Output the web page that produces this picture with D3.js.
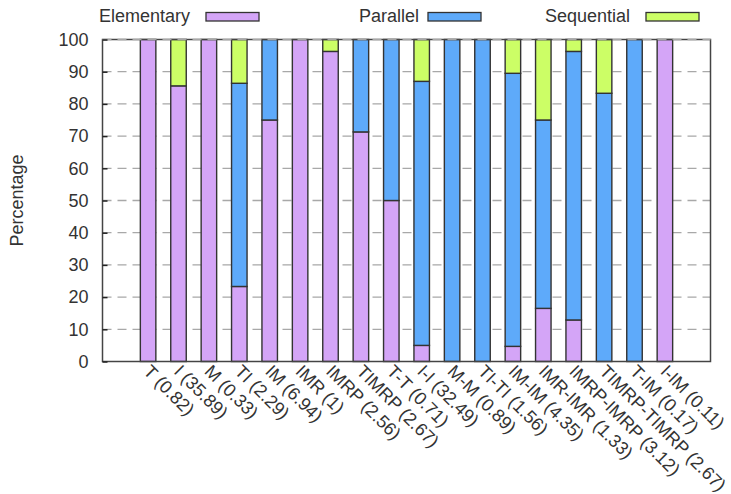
<!DOCTYPE html>
<html>
<head>
<meta charset="utf-8">
<script src="https://cdn.jsdelivr.net/npm/d3@7"></script>
<style>
  html, body { margin: 0; padding: 0; background: #fff; }
  svg { display: block; }
  text { font-family: "Liberation Sans", Arial, sans-serif; fill: #333; }
</style>
</head>
<body>
<svg id="chart" width="731" height="494"></svg>
<script>
const categories = ["T (0.82)", "I (35.89)", "M (0.33)", "TI (2.29)", "IM (6.94)", "IMR (1)", "IMRP (2.56)", "TIMRP (2.67)", "T-T (0.71)", "I-I (32.49)", "M-M (0.89)", "TI-TI (1.56)", "IM-IM (4.35)", "IMR-IMR (1.33)", "IMRP-IMRP (3.12)", "TIMRP-TIMRP (2.67)", "T-IM (0.17)", "I-IM (0.11)"];
const elementary = [100, 85.6, 100, 23.3, 75.0, 100, 96.3, 71.3, 50.0, 5.0, 0, 0, 4.7, 16.5, 12.9, 0, 0, 100];
const parallel   = [0, 0, 0, 63.1, 25.0, 0, 0, 28.7, 50.0, 82.0, 100, 100, 84.8, 58.5, 83.4, 83.3, 100, 0];
const sequential = [0, 14.4, 0, 13.6, 0, 0, 3.7, 0, 0, 13.0, 0, 0, 10.5, 25.0, 3.7, 16.7, 0, 0];
const seriesNames = ["Elementary", "Parallel", "Sequential"];
const seriesColors = ["#d4a5f7", "#5eaafa", "#ccfe66"];
const yTicks = [0, 10, 20, 30, 40, 50, 60, 70, 80, 90, 100];
const yLabel = "Percentage";

const svg = d3.select("#chart");
const mLeft = 102.5, mRight = 710.5, mTop = 39.5, mBottom = 361.5;

const x = d3.scaleLinear().domain([-1.5, categories.length + 0.5]).range([mLeft, mRight]);
const y = d3.scaleLinear().domain([0, 100]).range([mBottom, mTop]);
const slot = x(1) - x(0);
const barW = slot * 0.51;

// gridlines
svg.append("g").selectAll("line").data(yTicks.filter(t => t > 0 && t < 100)).join("line")
  .attr("x1", mLeft).attr("x2", mRight)
  .attr("y1", d => y(d)).attr("y2", d => y(d))
  .attr("stroke", "#a8a8a8").attr("stroke-width", 1.3)
  .attr("stroke-dasharray", "9,6");

// stacked data
const rows = categories.map((c, i) => ({ cat: c, i, Elementary: elementary[i], Parallel: parallel[i], Sequential: sequential[i] }));
const stack = d3.stack().keys(seriesNames)(rows);

const gBars = svg.append("g");
stack.forEach((layer, k) => {
  gBars.append("g").selectAll("rect").data(layer.filter(d => d[1] - d[0] > 0)).join("rect")
    .attr("x", d => x(d.data.i) - barW / 2)
    .attr("width", barW)
    .attr("y", d => y(d[1]))
    .attr("height", d => y(d[0]) - y(d[1]))
    .attr("fill", seriesColors[k])
    .attr("stroke", "#333")
    .attr("stroke-width", 1.4);
});

// frame
svg.append("rect").attr("x", mLeft).attr("y", mTop).attr("width", mRight - mLeft).attr("height", mBottom - mTop)
  .attr("fill", "none").attr("stroke", "#444").attr("stroke-width", 1.5);
svg.append("line").attr("x1", mLeft).attr("x2", mRight).attr("y1", mTop).attr("y2", mTop)
  .attr("stroke", "#a8a8a8").attr("stroke-width", 1.3).attr("stroke-dasharray", "9,6");

// y axis
const yAxis = d3.axisLeft(y).tickValues(yTicks).tickSize(-5).tickPadding(14).tickFormat(d3.format("d"));
const gy = svg.append("g").attr("transform", `translate(${mLeft},0)`).call(yAxis);
gy.select(".domain").remove();
gy.selectAll(".tick line").attr("stroke", "#222").attr("stroke-width", 1.5);
gy.selectAll(".tick text").attr("font-size", 18).attr("fill", "#333")
  .attr("font-family", "'Liberation Sans', Arial, sans-serif");

// x axis labels
const xAxis = d3.axisBottom(x).tickValues(d3.range(categories.length)).tickSize(0).tickFormat(i => categories[i]);
const gx = svg.append("g").attr("transform", `translate(0,${mBottom})`).call(xAxis);
gx.select(".domain").remove();
gx.selectAll(".tick text")
  .attr("font-size", 18).attr("fill", "#333")
  .attr("font-family", "'Liberation Sans', Arial, sans-serif")
  .attr("text-anchor", "start")
  .attr("dy", 0).attr("y", 0)
  .attr("transform", "translate(-6,11) rotate(45)");

// y label
svg.append("text").attr("transform", `translate(23,${(mTop + mBottom) / 2}) rotate(-90)`)
  .attr("text-anchor", "middle").attr("font-size", 18).text(yLabel);

// legend
const legendTextEnd = [190, 419, 630];
const legendSwatchX = [206, 428, 646];
seriesNames.forEach((name, k) => {
  svg.append("text").attr("x", legendTextEnd[k]).attr("y", 22).attr("text-anchor", "end")
    .attr("font-size", 18).text(name);
  svg.append("rect").attr("x", legendSwatchX[k]).attr("y", 12.5).attr("width", 53).attr("height", 8.5)
    .attr("fill", seriesColors[k]).attr("stroke", "#333").attr("stroke-width", 1.3);
});
</script>
</body>
</html>
